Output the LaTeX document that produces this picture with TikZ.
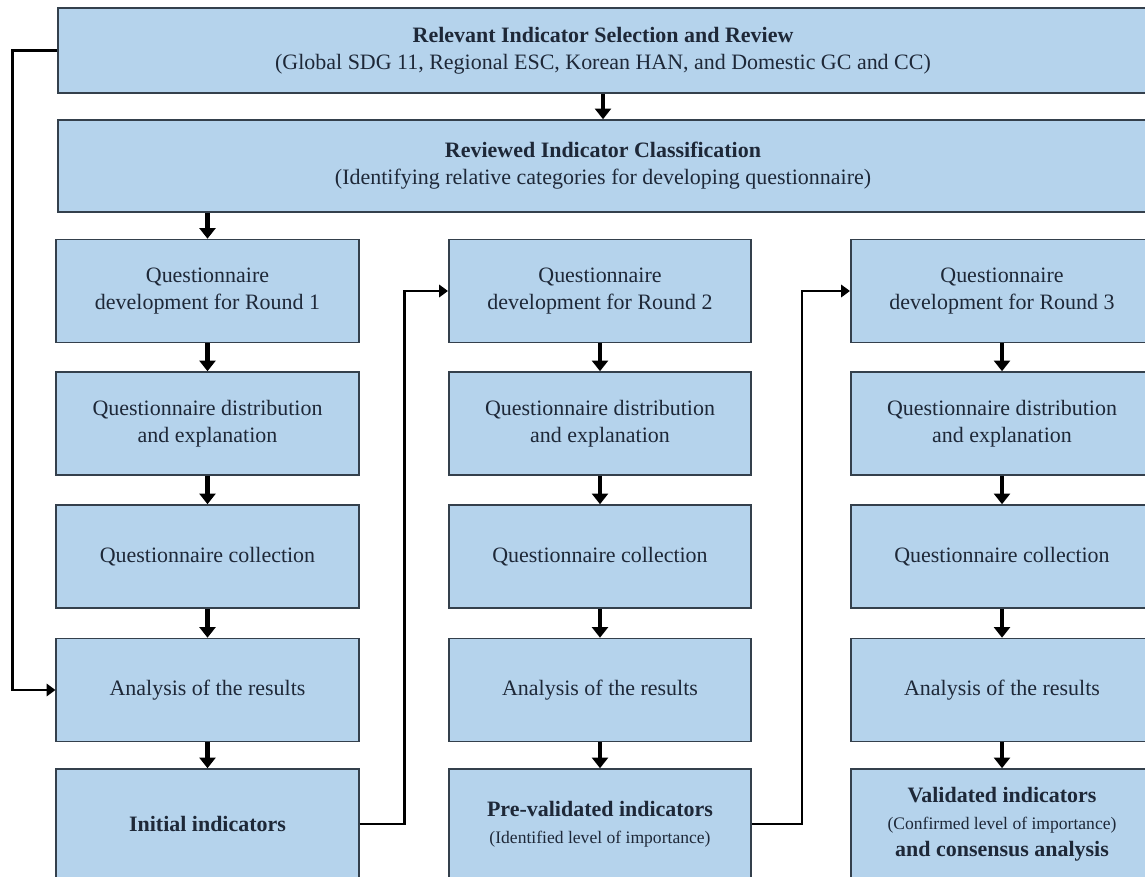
\documentclass[tikz,border=0pt]{standalone}
\usepackage{fontspec}
\setmainfont{Liberation Serif}
\usepackage{xcolor, tikz}
\usetikzlibrary{positioning, arrows.meta}
\definecolor{boxfill}{RGB}{181,211,236}
\definecolor{boxline}{RGB}{52,64,76}
\definecolor{boxtext}{RGB}{30,40,56}
\tikzset{>={Triangle[length=5pt,width=7pt]},
every node/.style={font=\fontsize{12.5}{15.4}\selectfont, text=boxtext},
stage/.style={rectangle, draw=boxline, line width=0.9pt, fill=boxfill, align=center, minimum width=6.05cm, minimum height=2.06cm},
headstage/.style={stage, minimum width=21.8cm},
laststage/.style={stage, minimum height=2.2cm},
flowarrow/.style={-{Triangle[length=6pt,width=9pt]}, line width=2.6pt, black},
loopback/.style={->, line width=1.5pt, black},
}
\newcommand{\note}[1]{{\fontsize{10}{12}\selectfont #1}}

\begin{document}
\begin{tikzpicture}
    \useasboundingbox (0,0) rectangle (22.9,-17.52);
    \clip (0,0) rectangle (22.9,-17.52);
        \node[headstage, minimum height=1.7cm] (sel) at (12.06,-1.01) {\textbf{Relevant Indicator Selection and Review}\\
            (Global SDG 11, Regional ESC, Korean HAN, and Domestic GC and CC)};
        \node[headstage, minimum height=1.84cm] (cls) at (12.06,-3.32) {\textbf{Reviewed Indicator Classification}\\
            (Identifying relative categories for developing questionnaire)};
        \foreach \r/\x in {1/4.15, 2/12.0, 3/20.04} {
            \node[stage] (dev\r) at (\x,-5.82) {Questionnaire\\ development for Round \r};
            \node[stage] (dist\r) at (\x,-8.47) {Questionnaire distribution\\ and explanation};
            \node[stage] (coll\r) at (\x,-11.13) {Questionnaire collection};
            \node[stage] (ana\r) at (\x,-13.80) {Analysis of the results};
            \draw[flowarrow] (dev\r) -- (dist\r);
            \draw[flowarrow] (dist\r) -- (coll\r);
            \draw[flowarrow] (coll\r) -- (ana\r);
        }
        \node[laststage] (ind1) at (4.15,-16.48) {\textbf{Initial indicators}};
        \node[laststage] (ind2) at (12.0,-16.48) {\textbf{Pre-validated indicators}\\
            \note{(Identified level of importance)}};
        \node[laststage] (ind3) at (20.04,-16.48) {\textbf{Validated indicators}\\
            \note{(Confirmed level of importance)}\\ \textbf{and consensus analysis}};
        \draw[flowarrow] (sel) -- (cls);
        \draw[flowarrow] (dev1.north |- cls.south) -- (dev1);
        \draw[flowarrow] (ana1) -- (ind1);
        \draw[flowarrow] (ana2) -- (ind2);
        \draw[flowarrow] (ana3) -- (ind3);
        \draw[loopback] (sel.west) -- ++(-0.9,0) |- (ana1.west);
        \draw[loopback] (ind1.east) -- ++(0.9,0) |- (dev2.west);
        \draw[loopback] (ind2.east) -- ++(1.0,0) |- (dev3.west);
    \end{tikzpicture}
\end{document}
